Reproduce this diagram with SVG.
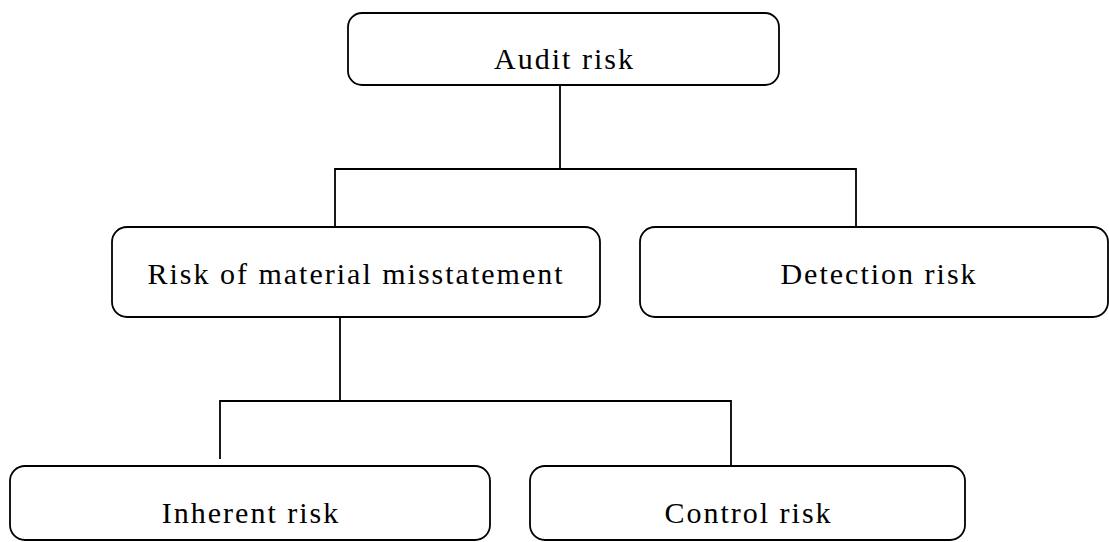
<svg xmlns="http://www.w3.org/2000/svg" width="1109" height="542" viewBox="0 0 1109 542">
<style>
.box{fill:#fff;stroke:#000;stroke-width:1.8}
.lbl{font-family:"Liberation Serif","Times New Roman",serif;font-size:30px;letter-spacing:2px;text-anchor:middle;fill:#000}
.con{fill:none;stroke:#000;stroke-width:1.8}
</style>
<rect width="1109" height="542" fill="#fff"/>
<g id="connectors">
<path class="con" d="M560,85 V169 M335,228 V169 H856 V228"/>
<path class="con" d="M340,317 V401 M220,459 V401 H731 V466"/>
</g>
<g id="audit-risk">
<rect class="box" x="348" y="13" width="431" height="72" rx="14"/>
<text class="lbl" x="564.5" y="69">Audit risk</text>
</g>
<g id="risk-material">
<rect class="box" x="112" y="227" width="488" height="90" rx="15"/>
<text class="lbl" x="356" y="284">Risk of material misstatement</text>
</g>
<g id="detection-risk">
<rect class="box" x="640" y="227" width="468" height="90" rx="15"/>
<text class="lbl" x="879" y="284">Detection risk</text>
</g>
<g id="inherent-risk">
<rect class="box" x="10" y="466" width="480" height="74" rx="15"/>
<text class="lbl" x="251" y="523">Inherent risk</text>
</g>
<g id="control-risk">
<rect class="box" x="530" y="466" width="435" height="74" rx="15"/>
<text class="lbl" x="748.5" y="523">Control risk</text>
</g>
</svg>
